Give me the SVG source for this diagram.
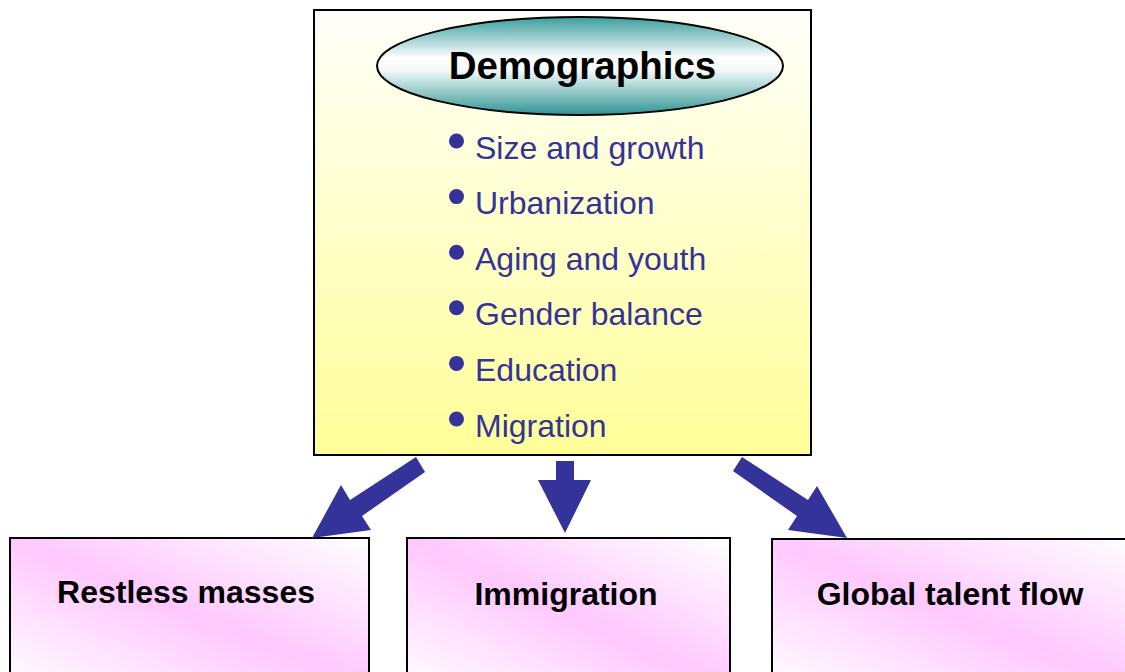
<svg xmlns="http://www.w3.org/2000/svg" width="1125" height="672" viewBox="0 0 1125 672">
  <defs>
    <linearGradient id="gMain" x1="0" y1="0" x2="0" y2="1">
      <stop offset="0" stop-color="#FFFFFA"/>
      <stop offset="1" stop-color="#FFFF99"/>
    </linearGradient>
    <linearGradient id="gOval" x1="0" y1="0" x2="0" y2="1">
      <stop offset="0" stop-color="#3A9E9E"/>
      <stop offset="0.42" stop-color="#FFFFFF"/>
      <stop offset="0.55" stop-color="#F2F8F8"/>
      <stop offset="1" stop-color="#2E9494"/>
    </linearGradient>
    <linearGradient id="gPink" x1="1" y1="0" x2="0" y2="1">
      <stop offset="0" stop-color="#FFFFFF"/>
      <stop offset="0.5" stop-color="#FFC8FF"/>
      <stop offset="1" stop-color="#FFFFFF"/>
    </linearGradient>
    <style>
      .box { stroke: #000; stroke-width: 2; }
      .item { font-family: "Liberation Sans", Arial, sans-serif; font-size: 32px; fill: #333399; }
      .bullet { fill: #333399; }
      .label { font-family: "Liberation Sans", Arial, sans-serif; font-size: 32px; font-weight: bold; fill: #000; text-anchor: middle; }
      .arrow { fill: #333399; }
    </style>
  </defs>
  <rect width="1125" height="672" fill="#FFFFFF"/>

  <g id="demographics">
    <rect class="box" x="314" y="10" width="497" height="445" fill="url(#gMain)"/>
    <ellipse cx="580" cy="66" rx="203" ry="49" fill="url(#gOval)" stroke="#000" stroke-width="2"/>
    <text x="582.5" y="79" font-family="Liberation Sans, Arial, sans-serif" font-size="38.5" font-weight="bold" text-anchor="middle" fill="#000">Demographics</text>
    <circle class="bullet" cx="456.5" cy="141" r="7.5"/>
    <text class="item" x="475" y="158.5">Size and growth</text>
    <circle class="bullet" cx="456.5" cy="196.6" r="7.5"/>
    <text class="item" x="475" y="214.1">Urbanization</text>
    <circle class="bullet" cx="456.5" cy="252.2" r="7.5"/>
    <text class="item" x="475" y="269.7">Aging and youth</text>
    <circle class="bullet" cx="456.5" cy="307.8" r="7.5"/>
    <text class="item" x="475" y="325.3">Gender balance</text>
    <circle class="bullet" cx="456.5" cy="363.4" r="7.5"/>
    <text class="item" x="475" y="380.9">Education</text>
    <circle class="bullet" cx="456.5" cy="419" r="7.5"/>
    <text class="item" x="475" y="436.5">Migration</text>
  </g>

  <g id="restless-masses">
    <rect class="box" x="10" y="538" width="359" height="150" fill="url(#gPink)"/>
    <text class="label" x="186" y="603">Restless masses</text>
  </g>

  <g id="immigration">
    <rect class="box" x="407" y="538" width="323" height="150" fill="url(#gPink)"/>
    <text class="label" x="566" y="605">Immigration</text>
  </g>

  <g id="global-talent-flow">
    <rect class="box" x="772" y="539" width="370" height="150" fill="url(#gPink)"/>
    <text class="label" x="950" y="605">Global talent flow</text>
  </g>

  <g id="connectors">
    <polygon class="arrow" points="416,457 425,472 362,516 371,530 312,538 341,485 350,500"/>
    <polygon class="arrow" points="556,461 574,461 574,480 591,480 565,533 538,480 556,480"/>
    <polygon class="arrow" points="742,457 733,471 797,516 788,530 847,538 817,486 808,500"/>
  </g>
</svg>
